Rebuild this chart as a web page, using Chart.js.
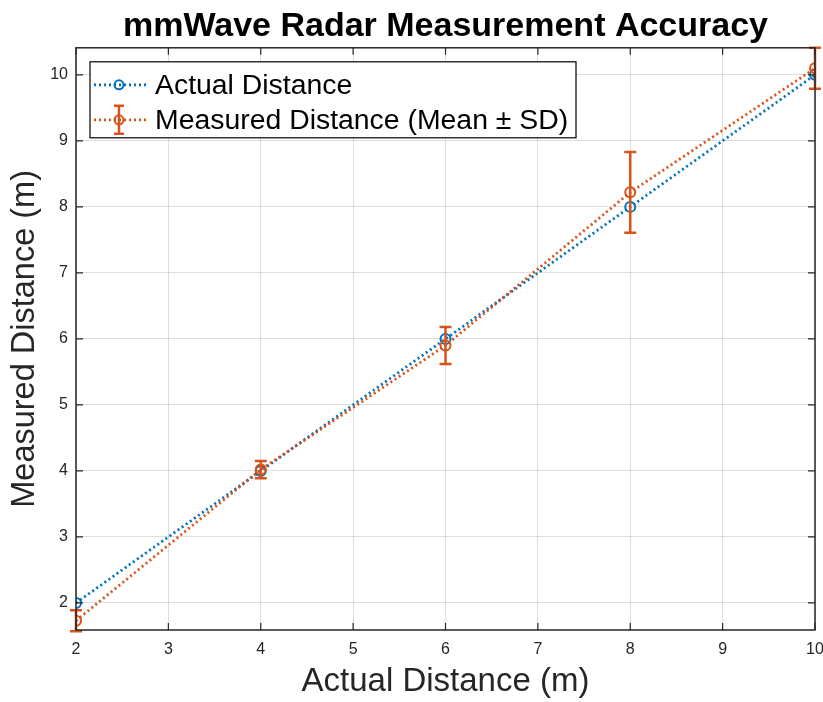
<!DOCTYPE html>
<html>
<head>
<meta charset="utf-8">
<script src="https://cdn.jsdelivr.net/npm/chart.js@4/dist/chart.umd.min.js"></script>
<style>
  html, body { margin: 0; padding: 0; background: #fff; }
  #wrap { width: 823px; height: 702px; }
</style>
</head>
<body>
<div id="wrap"><canvas id="radarChart"></canvas></div>
<script>
// values
const actualX = [2, 4, 6, 8, 10];
const actualY = [2, 4, 6, 8, 10];
const measuredMean = [1.73, 4.02, 5.9, 8.22, 10.1];
const measuredSD = [0.16, 0.13, 0.28, 0.61, 0.31];
const xTicks = [2, 3, 4, 5, 6, 7, 8, 9, 10];
const yTicks = [2, 3, 4, 5, 6, 7, 8, 9, 10];

const BLUE = '#0072BD';
const ORANGE = '#D95319';
const AXIS = '#262626';
const FONT = "'Liberation Sans', Arial, Helvetica, sans-serif";

Chart.defaults.font.family = FONT;
Chart.defaults.color = AXIS;

// error bars for the measured series
const errorBars = {
    id: 'errorBars',
    afterDatasetsDraw(chart) {
        const { ctx, scales: { x, y } } = chart;
        ctx.save();
        ctx.strokeStyle = ORANGE;
        ctx.lineWidth = 2.5;
        measuredMean.forEach((m, i) => {
            const px = x.getPixelForValue(actualX[i]);
            const top = y.getPixelForValue(m + measuredSD[i]);
            const bot = y.getPixelForValue(m - measuredSD[i]);
            ctx.beginPath();
            ctx.moveTo(px, top); ctx.lineTo(px, bot);
            ctx.moveTo(px - 6, top); ctx.lineTo(px + 6, top);
            ctx.moveTo(px - 6, bot); ctx.lineTo(px + 6, bot);
            ctx.stroke();
        });
        ctx.restore();
    }
};

// matlab style box with inward ticks on all four sides + legend
const boxAndLegend = {
    id: 'boxAndLegend',
    afterDraw(chart) {
        const { ctx, chartArea: a, scales: { x, y } } = chart;
        ctx.save();
        ctx.strokeStyle = AXIS;
        ctx.lineWidth = 1.5;
        ctx.strokeRect(a.left, a.top, a.right - a.left, a.bottom - a.top);
        ctx.lineWidth = 1.2;
        ctx.beginPath();
        xTicks.forEach(v => {
            const px = x.getPixelForValue(v);
            ctx.moveTo(px, a.bottom); ctx.lineTo(px, a.bottom - 7);
            ctx.moveTo(px, a.top); ctx.lineTo(px, a.top + 7);
        });
        yTicks.forEach(v => {
            const py = y.getPixelForValue(v);
            ctx.moveTo(a.left, py); ctx.lineTo(a.left + 7, py);
            ctx.moveTo(a.right, py); ctx.lineTo(a.right - 7, py);
        });
        ctx.stroke();

        // legend
        const lx = a.left + 14, ly = a.top + 14, lw = 486, lh = 76;
        ctx.fillStyle = '#fff';
        ctx.fillRect(lx, ly, lw, lh);
        ctx.strokeStyle = '#000';
        ctx.lineWidth = 1.2;
        ctx.strokeRect(lx, ly, lw, lh);

        const rows = chart.data.datasets;
        rows.forEach((ds, i) => {
            const cy = ly + 23 + i * 35;
            const mx = lx + 29;
            ctx.strokeStyle = ds.borderColor;
            ctx.lineWidth = 2.8;
            ctx.setLineDash([2, 3]);
            ctx.beginPath();
            ctx.moveTo(lx + 4, cy); ctx.lineTo(lx + 56, cy);
            ctx.stroke();
            ctx.setLineDash([]);
            ctx.lineWidth = 2;
            ctx.beginPath();
            ctx.arc(mx, cy, 4.5, 0, Math.PI * 2);
            ctx.stroke();
            if (ds.errorBars) {
                ctx.lineWidth = 2.5;
                ctx.beginPath();
                ctx.moveTo(mx, cy - 14); ctx.lineTo(mx, cy + 14);
                ctx.moveTo(mx - 5, cy - 14); ctx.lineTo(mx + 5, cy - 14);
                ctx.moveTo(mx - 5, cy + 14); ctx.lineTo(mx + 5, cy + 14);
                ctx.stroke();
            }
            ctx.fillStyle = '#000';
            ctx.font = '28.4px ' + FONT;
            ctx.textBaseline = 'middle';
            ctx.textAlign = 'left';
            ctx.fillText(ds.label, lx + 65, cy + 1);
        });
        ctx.restore();
    }
};

new Chart(document.getElementById('radarChart'), {
    type: 'scatter',
    data: {
        datasets: [{
            label: 'Actual Distance',
            data: actualX.map((v, i) => ({ x: v, y: actualY[i] })),
            showLine: true,
            borderColor: BLUE,
            borderWidth: 2.8,
            borderDash: [2, 3],
            pointRadius: 5,
            pointBorderWidth: 2,
            pointBorderColor: BLUE,
            pointBackgroundColor: 'rgba(0,0,0,0)',
            order: 2
        }, {
            label: 'Measured Distance (Mean \u00b1 SD)',
            data: actualX.map((v, i) => ({ x: v, y: measuredMean[i] })),
            errorBars: true,
            showLine: true,
            borderColor: ORANGE,
            borderWidth: 2.8,
            borderDash: [2, 3],
            pointRadius: 5,
            pointBorderWidth: 2,
            pointBorderColor: ORANGE,
            pointBackgroundColor: 'rgba(0,0,0,0)',
            order: 1
        }]
    },
    options: {
        responsive: true,
        maintainAspectRatio: false,
        animation: false,
        layout: { padding: { left: 0, right: 8, top: 0, bottom: 0 } },
        scales: {
            x: {
                type: 'linear',
                min: 2,
                max: 10,
                afterBuildTicks: s => { s.ticks = xTicks.map(v => ({ value: v })); },
                afterFit: s => { s.height = 72; s.paddingLeft = 0; s.paddingRight = 0; },
                grid: { color: 'rgba(0,0,0,0.13)', drawTicks: false },
                border: { display: false },
                ticks: { padding: 10, font: { size: 16 }, color: AXIS, maxRotation: 0 },
                title: {
                    display: true,
                    text: 'Actual Distance (m)',
                    font: { size: 33 },
                    color: AXIS,
                    padding: { top: 0, bottom: 0 }
                }
            },
            y: {
                type: 'linear',
                min: 1.59,
                max: 10.41,
                afterBuildTicks: s => { s.ticks = yTicks.map(v => ({ value: v })); },
                afterFit: s => { s.width = 76; s.paddingTop = 0; s.paddingBottom = 0; },
                grid: { color: 'rgba(0,0,0,0.13)', drawTicks: false },
                border: { display: false },
                ticks: { padding: 8, font: { size: 16 }, color: AXIS },
                title: {
                    display: true,
                    text: 'Measured Distance (m)',
                    font: { size: 32.5 },
                    color: AXIS,
                    padding: { top: 6, bottom: 0 }
                }
            }
        },
        plugins: {
            legend: { display: false },
            tooltip: { enabled: false },
            title: {
                display: true,
                fullSize: false,
                text: 'mmWave Radar Measurement Accuracy',
                font: { size: 34, weight: 'bold' },
                color: '#000',
                padding: { top: 6, bottom: 1 }
            }
        }
    },
    plugins: [errorBars, boxAndLegend]
});
</script>
</body>
</html>
